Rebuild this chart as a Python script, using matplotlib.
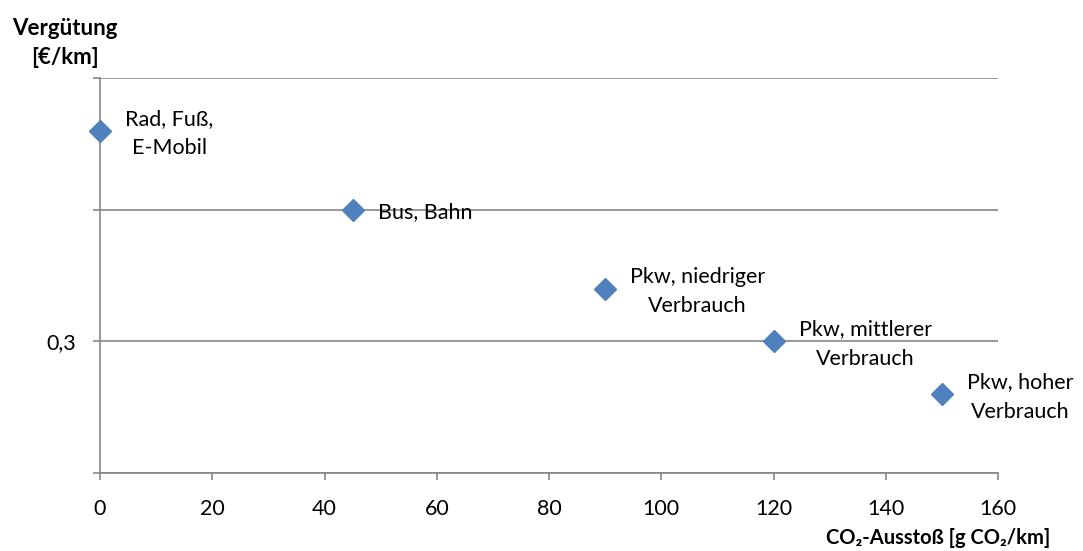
import matplotlib
matplotlib.use("Agg")
import matplotlib.pyplot as plt

plt.rcParams['font.family'] = ['Lato', 'DejaVu Sans']

# Data
labels = ["Rad, Fuß,\nE-Mobil", "Bus, Bahn", "Pkw, niedriger\nVerbrauch",
          "Pkw, mittlerer\nVerbrauch", "Pkw, hoher\nVerbrauch"]
co2 = [0, 45, 90, 120, 150]
verguetung = [0.46, 0.40, 0.34, 0.30, 0.26]

y_ticks = [0.2, 0.3, 0.4, 0.5]
y_ticklabels = ["", "0,3", "", ""]
x_ticks = [0, 20, 40, 60, 80, 100, 120, 140, 160]

grey = '#868686'
blue = '#4F81BD'

fig = plt.figure(figsize=(10.83, 5.51), dpi=100)
ax = fig.add_axes([100 / 1083, 78 / 551, 898 / 1083, 395 / 551])

ax.plot(co2, verguetung, linestyle='none', marker='D', markersize=11,
        color=blue, zorder=3, clip_on=False)

for x, y, lab in zip(co2, verguetung, labels):
    ax.annotate(lab, (x, y), xytext=(18, -2), textcoords='offset points',
                ha='left', va='center', multialignment='center',
                fontsize=15.5, linespacing=1.6, color='#000000')

ax.set_xlim(0, 160)
ax.set_ylim(0.2, 0.5)
ax.set_xticks(x_ticks)
ax.set_yticks(y_ticks)
ax.set_yticklabels(y_ticklabels)

ax.grid(axis='y', color=grey, linewidth=1.2)
ax.set_axisbelow(True)
for s in ['top', 'right']:
    ax.spines[s].set_visible(False)
for s in ['left', 'bottom']:
    ax.spines[s].set_color(grey)
    ax.spines[s].set_linewidth(1.2)
ax.tick_params(axis='both', colors=grey, length=5, width=1.2,
               labelcolor='#000000', labelsize=15.5)
ax.tick_params(axis='x', pad=14)
ax.tick_params(axis='y', pad=12)

fig.text(65 / 1083, 1 - 43 / 551, "Vergütung\n[€/km]", ha='center', va='center',
         multialignment='center', fontsize=16, linespacing=1.45,
         fontweight='bold')
fig.text(1050 / 1083, 1 - 538 / 551, "CO₂-Ausstoß [g CO₂/km]", ha='right',
         va='center', fontsize=14.5, fontweight='bold')

fig.savefig("out.png", dpi=100, facecolor='white')
